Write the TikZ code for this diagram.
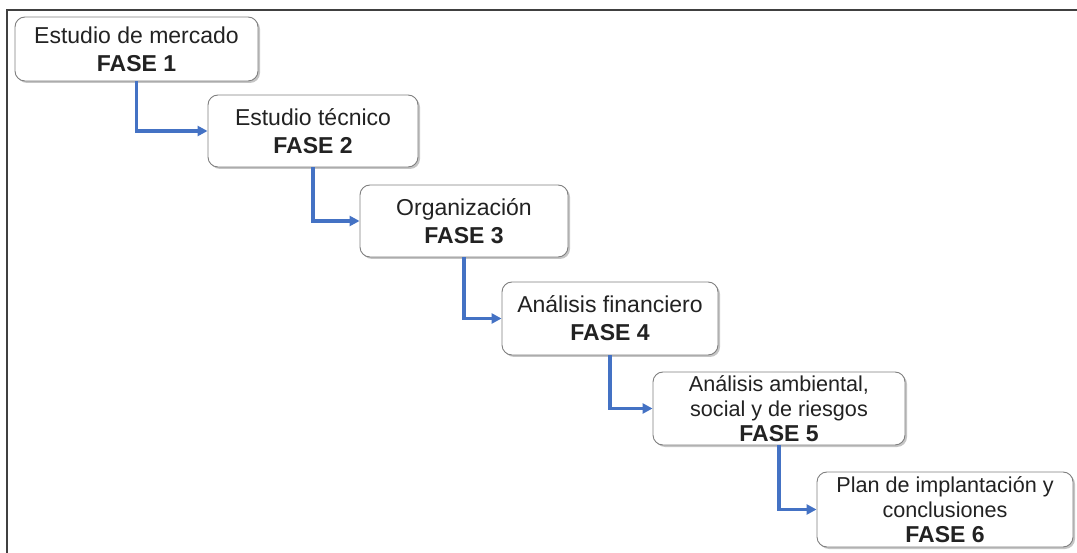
\documentclass[tikz,border=0pt]{standalone}
\usepackage{fontspec}
\setmainfont{Liberation Sans}
\usetikzlibrary{shadows,arrows.meta}
\definecolor{arrowblue}{HTML}{4472C4}
\definecolor{boxline}{HTML}{7F7F7F}
\definecolor{frameline}{HTML}{404040}
\definecolor{txt}{HTML}{222222}
\tikzset{
  phase/.style={draw=boxline, line width=0.9pt, rounded corners=10pt, fill=white,
    align=center, text=txt, inner sep=0pt,
    drop shadow={shadow xshift=2pt, shadow yshift=-2pt, fill=black!45, opacity=0.5}},
  big/.style={font=\fontsize{23}{28}\selectfont},
  small/.style={font=\fontsize{21.6}{25}\selectfont},
  link/.style={draw=arrowblue, line width=3.5pt, -{Triangle[length=10pt,width=10pt]}},
  frame/.style={draw=frameline, line width=2.5pt}
}
\begin{document}
\begin{tikzpicture}[x=1pt,y=-1pt]
\useasboundingbox (0,0) rectangle (1077,553);
\coordinate (ftr) at (1077,10);
\coordinate (ftl) at (7,10);
\coordinate (fbl) at (7,553);
\draw[frame] (ftr) -- (ftl) -- (fbl);
\node[phase,big,minimum width=243pt,minimum height=64pt] (b1) at (136.5,49) {Estudio de mercado\\\textbf{FASE 1}};
\node[phase,big,minimum width=210pt,minimum height=72pt] (b2) at (313,131) {Estudio técnico\\\textbf{FASE 2}};
\node[phase,big,minimum width=208pt,minimum height=72pt] (b3) at (464,221) {Organización\\\textbf{FASE 3}};
\node[phase,big,minimum width=216pt,minimum height=73pt] (b4) at (610,318.5) {Análisis financiero\\\textbf{FASE 4}};
\node[phase,small,minimum width=252pt,minimum height=73pt] (b5) at (779,408.5) {Análisis ambiental,\\social y de riesgos\\\textbf{\fontsize{23}{25}\selectfont FASE 5}};
\node[phase,small,minimum width=256pt,minimum height=75pt] (b6) at (945,509.5) {Plan de implantación y\\conclusiones\\\textbf{\fontsize{23}{25}\selectfont FASE 6}};
\draw[link] (b1.south) |- (b2.west);
\draw[link] (b2.south) |- (b3.west);
\draw[link] (b3.south) |- (b4.west);
\draw[link] (b4.south) |- (b5.west);
\draw[link] (b5.south) |- (b6.west);
\end{tikzpicture}
\end{document}
